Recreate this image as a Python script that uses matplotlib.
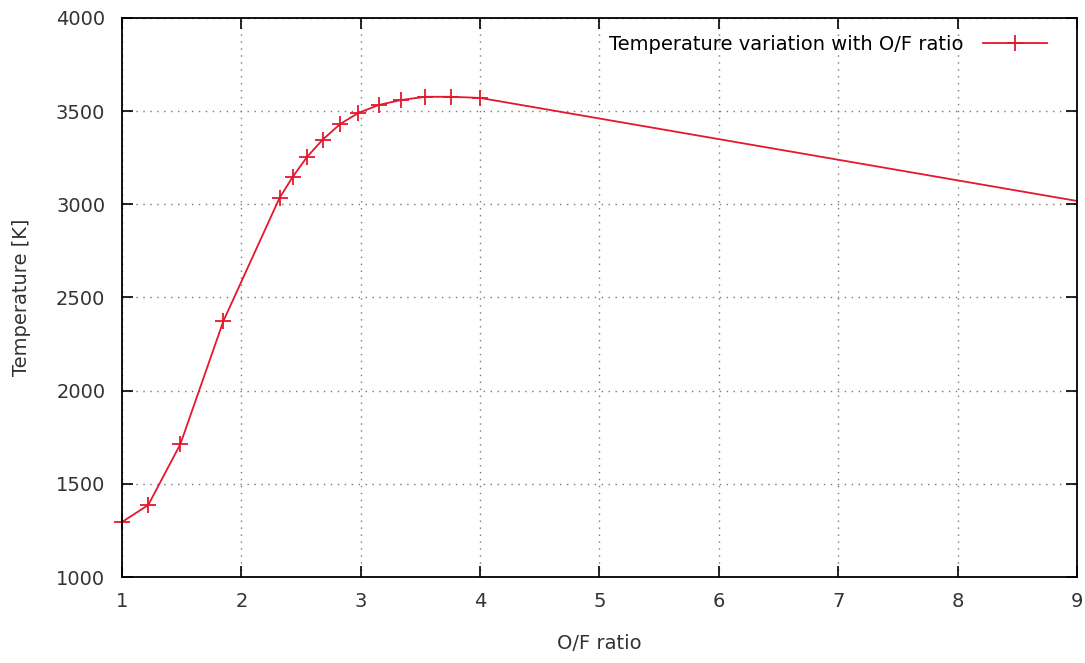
import matplotlib
matplotlib.use('Agg')
import matplotlib.pyplot as plt

# O/F ratio vs temperature
of_ratio = [1.0, 1.22, 1.49, 1.85, 2.32, 2.43, 2.55, 2.68, 2.83, 2.98, 3.15, 3.34, 3.54, 3.76, 4.0, 9.0]
temp_k = [1295, 1386, 1714, 2374, 3034, 3147, 3254, 3346, 3432, 3490, 3533, 3560, 3577, 3577, 3571, 3018]

x_ticks = [1, 2, 3, 4, 5, 6, 7, 8, 9]
y_ticks = [1000, 1500, 2000, 2500, 3000, 3500, 4000]

plt.rcParams['font.family'] = ['DejaVu Sans']
plt.rcParams['font.size'] = 14

fig = plt.figure(figsize=(10.85, 6.63), dpi=100)
ax = fig.add_axes([0.1124, 0.1297, 0.8802, 0.8432])

# last point (x=9) has no marker in the original
ax.plot(of_ratio, temp_k, color='#e4172e', lw=1.3, marker='+', markersize=11,
        markeredgewidth=1.3, markevery=list(range(len(of_ratio) - 1)),
        label='Temperature variation with O/F ratio', clip_on=False)

ax.set_xlim(1, 9)
ax.set_ylim(1000, 4000)
ax.set_xticks(x_ticks)
ax.set_yticks(y_ticks)
ax.tick_params(direction='in', length=8, width=1.2, top=True, right=True,
               labelcolor='#333333', labelsize=14)
ax.tick_params(axis='x', pad=11)
ax.tick_params(axis='y', pad=12)
for s in ax.spines.values():
    s.set_linewidth(1.3)

ax.grid(True, linestyle=(0, (1, 4)), color='#777777', lw=1)

ax.set_xlabel('O/F ratio', labelpad=16, color='#333333')
ax.set_ylabel('Temperature [K]', labelpad=18, color='#333333')

ax.legend(loc='upper right', bbox_to_anchor=(0.977, 0.984), borderaxespad=0,
          frameon=False, markerfirst=False, handlelength=3.3, handletextpad=1.0,
          fontsize=14)

fig.savefig('out.png', dpi=100)
